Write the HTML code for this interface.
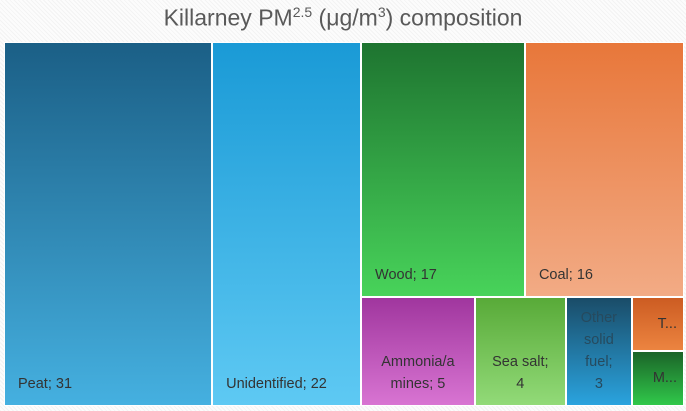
<!DOCTYPE html>
<html><head><meta charset="utf-8"><style>
body{margin:0;width:686px;height:411px;overflow:hidden;font-family:"Liberation Sans",sans-serif;
background:repeating-linear-gradient(45deg,#f3f3f3 0 1px,#fcfcfc 1px 3px);}
#title{position:absolute;left:0;width:686px;top:4px;text-align:center;font-size:23px;color:#595959;}
#title sup{font-size:14px;}
.cell{position:absolute;box-sizing:border-box;border:1px solid #fff;}
.lbl{position:absolute;font-size:14.5px;color:#333;line-height:22px;}
</style></head><body>
<div id="title">Killarney PM<sup>2.5</sup> (μg/m<sup>3</sup>) composition</div>
<div id="chart"></div>
<script>
const categories=["Peat","Unidentified","Wood","Coal","Ammonia/amines","Sea salt","Other solid fuel","T...","M..."];
const values=[30.6,21.9,16.9,16.4,5.0,4.0,2.9,1.13,1.16];
const topColors=["#1b5f86","#1a9ad6","#1e7430","#e8773a","#a0369e","#58aa38","#1a4c68","#cc5c22","#1b6428"];
const botColors=["#45b0e0","#5ec9f3","#48d35a","#f2ab85","#d874d2","#92da78","#2aa3de","#ec8440","#30c84a"];
const labels=["Peat; 31","Unidentified; 22","Wood; 17","Coal; 16","Ammonia/a<br>mines; 5","Sea salt;<br>4","Other<br>solid<br>fuel;<br>3","T...","M..."];
const X0=4,Y0=42,W=680,H=364;
const total=values.reduce((a,b)=>a+b,0);
const rects=[];
let x=X0;
const wPeat=W*values[0]/total; rects[0]=[x,Y0,wPeat,H]; x+=wPeat;
const wUn=W*values[1]/total; rects[1]=[x,Y0,wUn,H]; x+=wUn;
const rw=X0+W-x, restTotal=total-values[0]-values[1];
const topSum=values[2]+values[3];
const th=H*topSum/restTotal;
rects[2]=[x,Y0,rw*values[2]/topSum,th];
rects[3]=[x+rw*values[2]/topSum,Y0,rw*values[3]/topSum,th];
const bs=restTotal-topSum, by=Y0+th, bh=H-th;
let bx=x;
for(let i=4;i<7;i++){const w=rw*values[i]/bs;rects[i]=[bx,by,w,bh];bx+=w;}
const cw=X0+W-bx, cs=values[7]+values[8];
rects[7]=[bx,by,cw,bh*values[7]/cs];
rects[8]=[bx,by+bh*values[7]/cs,cw,bh*values[8]/cs];
const chart=document.getElementById('chart');
rects.forEach((r,i)=>{
  const d=document.createElement('div');
  
  
  d.className='cell';
  d.style.left=r[0]+'px';d.style.top=r[1]+'px';d.style.width=r[2]+'px';d.style.height=r[3]+'px';
  d.style.background=`linear-gradient(${topColors[i]},${botColors[i]})`;
  const l=document.createElement('div');
  
  
  l.className='lbl';
  l.innerHTML=labels[i];
  if(i<4){l.style.left='13px';l.style.bottom='10px';}
  else if(i<7){l.style.left='0';l.style.right='0';l.style.textAlign='center';l.style.bottom='10px';}
  else {l.style.right='6px';l.style.top='50%';l.style.transform='translateY(-50%)';}
  if(i==6)l.style.color='#264a5e';
  d.appendChild(l);chart.appendChild(d);
});
</script>
</body></html>
